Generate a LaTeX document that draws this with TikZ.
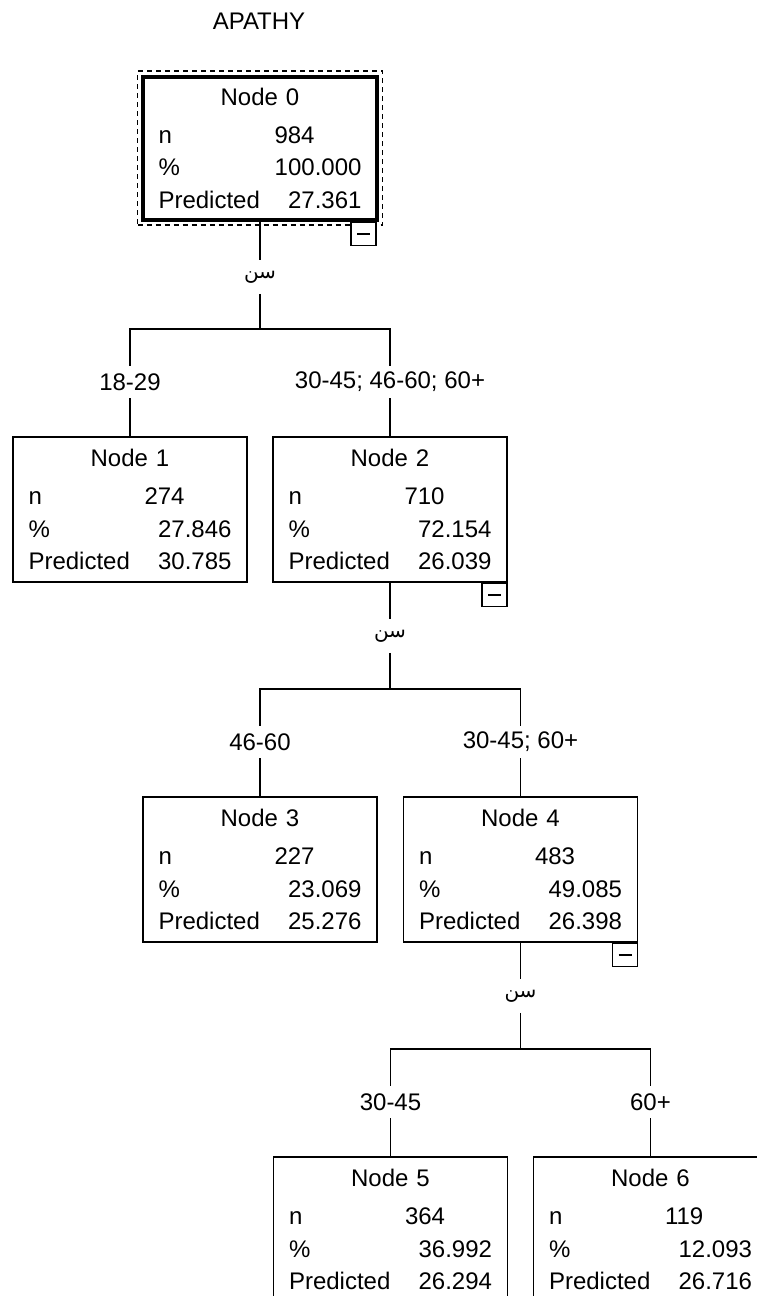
\documentclass[tikz,border=0pt]{standalone}
\usepackage{fontspec}
\setmainfont{Liberation Sans}
\newfontfamily\arabicfont[Script=Arabic]{DejaVu Sans}
\TeXXeTstate=1
\usepackage{tikz}
\usetikzlibrary{calc}
\usetikzlibrary{fit}
\usetikzlibrary{positioning}

\newcommand{\nodestats}[4]{\makebox[203pt][c]{#1}\\[5.5pt]
\makebox[116pt][l]{n}#2\\
\makebox[116pt][l]{\%}\makebox[87pt][r]{#3}\\
\makebox[116pt][l]{Predicted}\makebox[87pt][r]{#4}}
\newcommand{\agesplit}{{\arabicfont\beginR سن\endR}}

\begin{document}
\begin{tikzpicture}[x=1pt, y=-1pt, line width=1.6pt,
  every node/.style={font=\fontsize{24}{32.5}\selectfont},
  treebox/.style={draw, rectangle, minimum width=234pt, minimum height=145pt, text width=203pt, align=left, inner sep=0pt},
  rootbox/.style={treebox, line width=4pt, minimum height=143pt},
  togglebox/.style={draw, fill=white, minimum width=25pt, minimum height=23pt, inner sep=0pt, anchor=north east},
  splitlbl/.style={inner sep=0pt, minimum height=32pt, font=\fontsize{20}{24}\selectfont},
  caselbl/.style={inner sep=0pt, minimum height=31pt}]
\useasboundingbox (0,0) rectangle (756,1296);
\node (title) at (259,21) {APATHY};
\node[rootbox] (n0) at (260,148) {\nodestats{Node 0}{984}{100.000}{27.361}};
\node[draw, dash pattern=on 5pt off 4pt, fit=(n0), inner sep=3.5pt] (focus) {};
\node[togglebox] (t0) at ($(n0.south east)+(-2,0)$) {\rule{13pt}{1.6pt}};
\node[splitlbl] (s0) at (260,277) {\agesplit};
\coordinate (j0) at (260,329);
\node[caselbl] (b1) at (130,382) {18-29};
\node[caselbl] (b2) at (390,382) {30-45; 46-60; 60+};
\node[treebox] (n1) at (130,509.5) {\nodestats{Node 1}{274}{27.846}{30.785}};
\node[treebox] (n2) at (390,509.5) {\nodestats{Node 2}{710}{72.154}{26.039}};
\node[togglebox] (t2) at (n2.south east) {\rule{13pt}{1.6pt}};
\node[splitlbl] (s2) at (390,636) {\agesplit};
\coordinate (j2) at (390,689);
\node[caselbl] (b3) at (260,742) {46-60};
\node[caselbl] (b4) at (520.5,742) {30-45; 60+};
\node[treebox] (n3) at (260,869.5) {\nodestats{Node 3}{227}{23.069}{25.276}};
\node[treebox] (n4) at (520.5,869.5) {\nodestats{Node 4}{483}{49.085}{26.398}};
\node[togglebox] (t4) at (n4.south east) {\rule{13pt}{1.6pt}};
\node[splitlbl] (s4) at (520.5,996) {\agesplit};
\coordinate (j4) at (520.5,1049);
\node[caselbl] (b5) at (390.5,1102) {30-45};
\node[caselbl] (b6) at (650.5,1102) {60+};
\node[treebox] (n5) at (390.5,1229.5) {\nodestats{Node 5}{364}{36.992}{26.294}};
\node[treebox] (n6) at (650.5,1229.5) {\nodestats{Node 6}{119}{12.093}{26.716}};
\draw (n0) -- (s0) (s0) -- (j0) -| (b1) (j0) -| (b2) (b1) -- (n1) (b2) -- (n2)
  (n2) -- (s2) (s2) -- (j2) -| (b3) (j2) -| (b4) (b3) -- (n3) (b4) -- (n4)
  (n4) -- (s4) (s4) -- (j4) -| (b5) (j4) -| (b6) (b5) -- (n5) (b6) -- (n6);
\end{tikzpicture}
\end{document}
